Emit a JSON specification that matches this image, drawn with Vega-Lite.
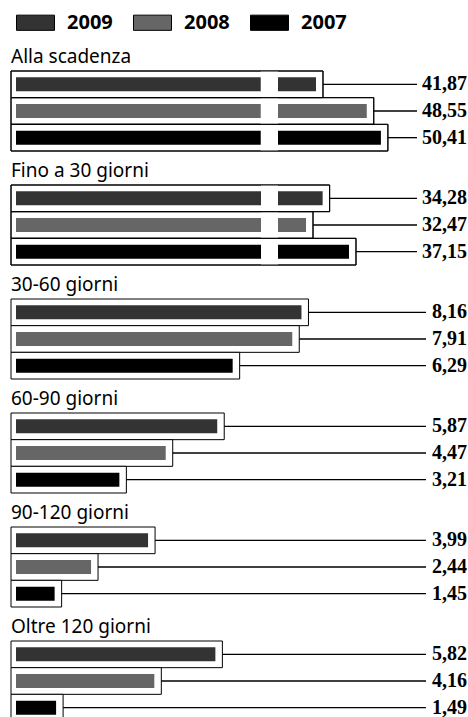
{
  "$schema": "https://vega.github.io/schema/vega-lite/v6.json",
  "padding": {"left": 10, "top": 3, "right": 2, "bottom": 0},
  "data": {"values": [
    {"cat": "Alla scadenza", "year": "2009", "value": 41.87},
    {"cat": "Alla scadenza", "year": "2008", "value": 48.55},
    {"cat": "Alla scadenza", "year": "2007", "value": 50.41},
    {"cat": "Fino a 30 giorni", "year": "2009", "value": 34.28},
    {"cat": "Fino a 30 giorni", "year": "2008", "value": 32.47},
    {"cat": "Fino a 30 giorni", "year": "2007", "value": 37.15},
    {"cat": "30-60 giorni", "year": "2009", "value": 8.16},
    {"cat": "30-60 giorni", "year": "2008", "value": 7.91},
    {"cat": "30-60 giorni", "year": "2007", "value": 6.29},
    {"cat": "60-90 giorni", "year": "2009", "value": 5.87},
    {"cat": "60-90 giorni", "year": "2008", "value": 4.47},
    {"cat": "60-90 giorni", "year": "2007", "value": 3.21},
    {"cat": "90-120 giorni", "year": "2009", "value": 3.99},
    {"cat": "90-120 giorni", "year": "2008", "value": 2.44},
    {"cat": "90-120 giorni", "year": "2007", "value": 1.45},
    {"cat": "Oltre 120 giorni", "year": "2009", "value": 5.82},
    {"cat": "Oltre 120 giorni", "year": "2008", "value": 4.16},
    {"cat": "Oltre 120 giorni", "year": "2007", "value": 1.49}
  ]},
  "spacing": 34,
  "bounds": "flush",
  "vconcat": [
    {
      "title": "Alla scadenza",
      "transform": [{"filter": "datum.cat === 'Alla scadenza'"}],
      "width": 451, "height": 80,
      "layer": [
        {"mark": {"type": "rect", "fill": "white", "stroke": "black", "strokeWidth": 1, "xOffset": 7, "x2Offset": -5},
         "encoding": {"y": {"field": "year", "type": "nominal", "sort": ["2009", "2008", "2007"], "axis": null}, "x": {"field": "value", "type": "quantitative", "axis": null, "scale": {"domain": [0, 36, 36.87, 61.74], "range": [0, 245, 262, 451], "zero": false, "nice": false}}, "x2": {"datum": 0}}},
        {"mark": {"type": "bar", "size": 14},
         "encoding": {"y": {"field": "year", "type": "nominal", "sort": ["2009", "2008", "2007"]}, "x": {"field": "value", "type": "quantitative"}, "x2": {"datum": 0}, "color": {"field": "year", "type": "nominal", "sort": ["2009", "2008", "2007"], "legend": {"title": null}}}},
        {"mark": {"type": "rule", "color": "white", "strokeWidth": 17},
         "encoding": {"x": {"datum": 36.43}}},
        {"mark": {"type": "rect", "fill": null, "stroke": "black", "strokeWidth": 1, "xOffset": 7, "x2Offset": -5},
         "encoding": {"y": {"field": "year", "type": "nominal", "sort": ["2009", "2008", "2007"]}, "x": {"field": "value", "type": "quantitative"}, "x2": {"datum": 0}}},
        {"mark": {"type": "rule", "color": "black", "strokeWidth": 1.3, "xOffset": 7, "x2Offset": -50},
         "encoding": {"y": {"field": "year", "type": "nominal", "sort": ["2009", "2008", "2007"]}, "x": {"field": "value", "type": "quantitative"}, "x2": {"datum": 61.74}}},
        {"mark": {"type": "text", "align": "right", "baseline": "middle", "font": "Liberation Serif", "fontWeight": "bold", "fontSize": 20, "color": "black"},
         "encoding": {"y": {"field": "year", "type": "nominal", "sort": ["2009", "2008", "2007"]}, "x": {"datum": 61.74}, "text": {"field": "value", "type": "quantitative", "format": ".2f"}}}
      ]
    },
    {
      "title": "Fino a 30 giorni",
      "transform": [{"filter": "datum.cat === 'Fino a 30 giorni'"}],
      "width": 451, "height": 80,
      "layer": [
        {"mark": {"type": "rect", "fill": "white", "stroke": "black", "strokeWidth": 1, "xOffset": 7, "x2Offset": -5},
         "encoding": {"y": {"field": "year", "type": "nominal", "sort": ["2009", "2008", "2007"], "axis": null}, "x": {"field": "value", "type": "quantitative", "axis": null, "scale": {"domain": [0, 29, 29.42, 50], "range": [0, 245, 262, 451], "zero": false, "nice": false}}, "x2": {"datum": 0}}},
        {"mark": {"type": "bar", "size": 14},
         "encoding": {"y": {"field": "year", "type": "nominal", "sort": ["2009", "2008", "2007"]}, "x": {"field": "value", "type": "quantitative"}, "x2": {"datum": 0}, "color": {"field": "year", "type": "nominal", "sort": ["2009", "2008", "2007"], "legend": {"title": null}}}},
        {"mark": {"type": "rule", "color": "white", "strokeWidth": 17},
         "encoding": {"x": {"datum": 29.21}}},
        {"mark": {"type": "rect", "fill": null, "stroke": "black", "strokeWidth": 1, "xOffset": 7, "x2Offset": -5},
         "encoding": {"y": {"field": "year", "type": "nominal", "sort": ["2009", "2008", "2007"]}, "x": {"field": "value", "type": "quantitative"}, "x2": {"datum": 0}}},
        {"mark": {"type": "rule", "color": "black", "strokeWidth": 1.3, "xOffset": 7, "x2Offset": -50},
         "encoding": {"y": {"field": "year", "type": "nominal", "sort": ["2009", "2008", "2007"]}, "x": {"field": "value", "type": "quantitative"}, "x2": {"datum": 50}}},
        {"mark": {"type": "text", "align": "right", "baseline": "middle", "font": "Liberation Serif", "fontWeight": "bold", "fontSize": 20, "color": "black"},
         "encoding": {"y": {"field": "year", "type": "nominal", "sort": ["2009", "2008", "2007"]}, "x": {"datum": 50}, "text": {"field": "value", "type": "quantitative", "format": ".2f"}}}
      ]
    },
    {
      "title": "30-60 giorni",
      "transform": [{"filter": "datum.cat === '30-60 giorni'"}],
      "width": 451, "height": 80,
      "layer": [
        {"mark": {"type": "rect", "fill": "white", "stroke": "black", "strokeWidth": 1, "xOffset": 7, "x2Offset": -5},
         "encoding": {"y": {"field": "year", "type": "nominal", "sort": ["2009", "2008", "2007"], "axis": null}, "x": {"field": "value", "type": "quantitative", "axis": null, "scale": {"domain": [0.4, 12.66], "zero": false, "nice": false}}, "x2": {"datum": 0.4}}},
        {"mark": {"type": "bar", "size": 14},
         "encoding": {"y": {"field": "year", "type": "nominal", "sort": ["2009", "2008", "2007"]}, "x": {"field": "value", "type": "quantitative"}, "x2": {"datum": 0.4}, "color": {"field": "year", "type": "nominal", "sort": ["2009", "2008", "2007"], "legend": {"title": null}}}},
        {"mark": {"type": "rule", "color": "white", "strokeWidth": 17},
         "encoding": {"x": {"datum": 11.5}}},
        {"mark": {"type": "rule", "color": "black", "strokeWidth": 1.3, "xOffset": 7, "x2Offset": -41},
         "encoding": {"y": {"field": "year", "type": "nominal", "sort": ["2009", "2008", "2007"]}, "x": {"field": "value", "type": "quantitative"}, "x2": {"datum": 12.66}}},
        {"mark": {"type": "text", "align": "right", "baseline": "middle", "font": "Liberation Serif", "fontWeight": "bold", "fontSize": 20, "color": "black"},
         "encoding": {"y": {"field": "year", "type": "nominal", "sort": ["2009", "2008", "2007"]}, "x": {"datum": 12.66}, "text": {"field": "value", "type": "quantitative", "format": ".2f"}}}
      ]
    },
    {
      "title": "60-90 giorni",
      "transform": [{"filter": "datum.cat === '60-90 giorni'"}],
      "width": 451, "height": 80,
      "layer": [
        {"mark": {"type": "rect", "fill": "white", "stroke": "black", "strokeWidth": 1, "xOffset": 7, "x2Offset": -5},
         "encoding": {"y": {"field": "year", "type": "nominal", "sort": ["2009", "2008", "2007"], "axis": null}, "x": {"field": "value", "type": "quantitative", "axis": null, "scale": {"domain": [0.4, 12.66], "zero": false, "nice": false}}, "x2": {"datum": 0.4}}},
        {"mark": {"type": "bar", "size": 14},
         "encoding": {"y": {"field": "year", "type": "nominal", "sort": ["2009", "2008", "2007"]}, "x": {"field": "value", "type": "quantitative"}, "x2": {"datum": 0.4}, "color": {"field": "year", "type": "nominal", "sort": ["2009", "2008", "2007"], "legend": {"title": null}}}},
        {"mark": {"type": "rule", "color": "white", "strokeWidth": 17},
         "encoding": {"x": {"datum": 11.5}}},
        {"mark": {"type": "rule", "color": "black", "strokeWidth": 1.3, "xOffset": 7, "x2Offset": -41},
         "encoding": {"y": {"field": "year", "type": "nominal", "sort": ["2009", "2008", "2007"]}, "x": {"field": "value", "type": "quantitative"}, "x2": {"datum": 12.66}}},
        {"mark": {"type": "text", "align": "right", "baseline": "middle", "font": "Liberation Serif", "fontWeight": "bold", "fontSize": 20, "color": "black"},
         "encoding": {"y": {"field": "year", "type": "nominal", "sort": ["2009", "2008", "2007"]}, "x": {"datum": 12.66}, "text": {"field": "value", "type": "quantitative", "format": ".2f"}}}
      ]
    },
    {
      "title": "90-120 giorni",
      "transform": [{"filter": "datum.cat === '90-120 giorni'"}],
      "width": 451, "height": 80,
      "layer": [
        {"mark": {"type": "rect", "fill": "white", "stroke": "black", "strokeWidth": 1, "xOffset": 7, "x2Offset": -5},
         "encoding": {"y": {"field": "year", "type": "nominal", "sort": ["2009", "2008", "2007"], "axis": null}, "x": {"field": "value", "type": "quantitative", "axis": null, "scale": {"domain": [0.4, 12.66], "zero": false, "nice": false}}, "x2": {"datum": 0.4}}},
        {"mark": {"type": "bar", "size": 14},
         "encoding": {"y": {"field": "year", "type": "nominal", "sort": ["2009", "2008", "2007"]}, "x": {"field": "value", "type": "quantitative"}, "x2": {"datum": 0.4}, "color": {"field": "year", "type": "nominal", "sort": ["2009", "2008", "2007"], "legend": {"title": null}}}},
        {"mark": {"type": "rule", "color": "white", "strokeWidth": 17},
         "encoding": {"x": {"datum": 11.5}}},
        {"mark": {"type": "rule", "color": "black", "strokeWidth": 1.3, "xOffset": 7, "x2Offset": -41},
         "encoding": {"y": {"field": "year", "type": "nominal", "sort": ["2009", "2008", "2007"]}, "x": {"field": "value", "type": "quantitative"}, "x2": {"datum": 12.66}}},
        {"mark": {"type": "text", "align": "right", "baseline": "middle", "font": "Liberation Serif", "fontWeight": "bold", "fontSize": 20, "color": "black"},
         "encoding": {"y": {"field": "year", "type": "nominal", "sort": ["2009", "2008", "2007"]}, "x": {"datum": 12.66}, "text": {"field": "value", "type": "quantitative", "format": ".2f"}}}
      ]
    },
    {
      "title": "Oltre 120 giorni",
      "transform": [{"filter": "datum.cat === 'Oltre 120 giorni'"}],
      "width": 451, "height": 80,
      "layer": [
        {"mark": {"type": "rect", "fill": "white", "stroke": "black", "strokeWidth": 1, "xOffset": 7, "x2Offset": -5},
         "encoding": {"y": {"field": "year", "type": "nominal", "sort": ["2009", "2008", "2007"], "axis": null}, "x": {"field": "value", "type": "quantitative", "axis": null, "scale": {"domain": [0.4, 12.66], "zero": false, "nice": false}}, "x2": {"datum": 0.4}}},
        {"mark": {"type": "bar", "size": 14},
         "encoding": {"y": {"field": "year", "type": "nominal", "sort": ["2009", "2008", "2007"]}, "x": {"field": "value", "type": "quantitative"}, "x2": {"datum": 0.4}, "color": {"field": "year", "type": "nominal", "sort": ["2009", "2008", "2007"], "legend": {"title": null}}}},
        {"mark": {"type": "rule", "color": "white", "strokeWidth": 17},
         "encoding": {"x": {"datum": 11.5}}},
        {"mark": {"type": "rule", "color": "black", "strokeWidth": 1.3, "xOffset": 7, "x2Offset": -41},
         "encoding": {"y": {"field": "year", "type": "nominal", "sort": ["2009", "2008", "2007"]}, "x": {"field": "value", "type": "quantitative"}, "x2": {"datum": 12.66}}},
        {"mark": {"type": "text", "align": "right", "baseline": "middle", "font": "Liberation Serif", "fontWeight": "bold", "fontSize": 20, "color": "black"},
         "encoding": {"y": {"field": "year", "type": "nominal", "sort": ["2009", "2008", "2007"]}, "x": {"datum": 12.66}, "text": {"field": "value", "type": "quantitative", "format": ".2f"}}}
      ]
    }
  ],
  "config": {
    "locale": {"number": {"decimal": ",", "thousands": ".", "grouping": [3], "currency": ["", " €"]}},
    "view": {"stroke": null},
    "scale": {"bandPaddingInner": 0, "bandPaddingOuter": 0},
    "range": {"category": ["#333333", "#666666", "#000000"]},
    "title": {"anchor": "start", "frame": "group", "dx": -5, "font": "Noto Sans", "fontSize": 19, "fontWeight": "normal", "color": "black", "baseline": "alphabetic", "offset": -4},
    "legend": {
      "orient": "top", "direction": "horizontal",
      "symbolType": "M-1,-0.4H1V0.4H-1Z", "symbolSize": 1444,
      "symbolStrokeColor": "black", "symbolStrokeWidth": 1, "symbolOpacity": 1,
      "labelFont": "Noto Sans", "labelFontWeight": "bold", "labelFontSize": 20, "labelColor": "black",
      "labelOffset": 12, "columnPadding": 18, "offset": 14
    }
  }
}
